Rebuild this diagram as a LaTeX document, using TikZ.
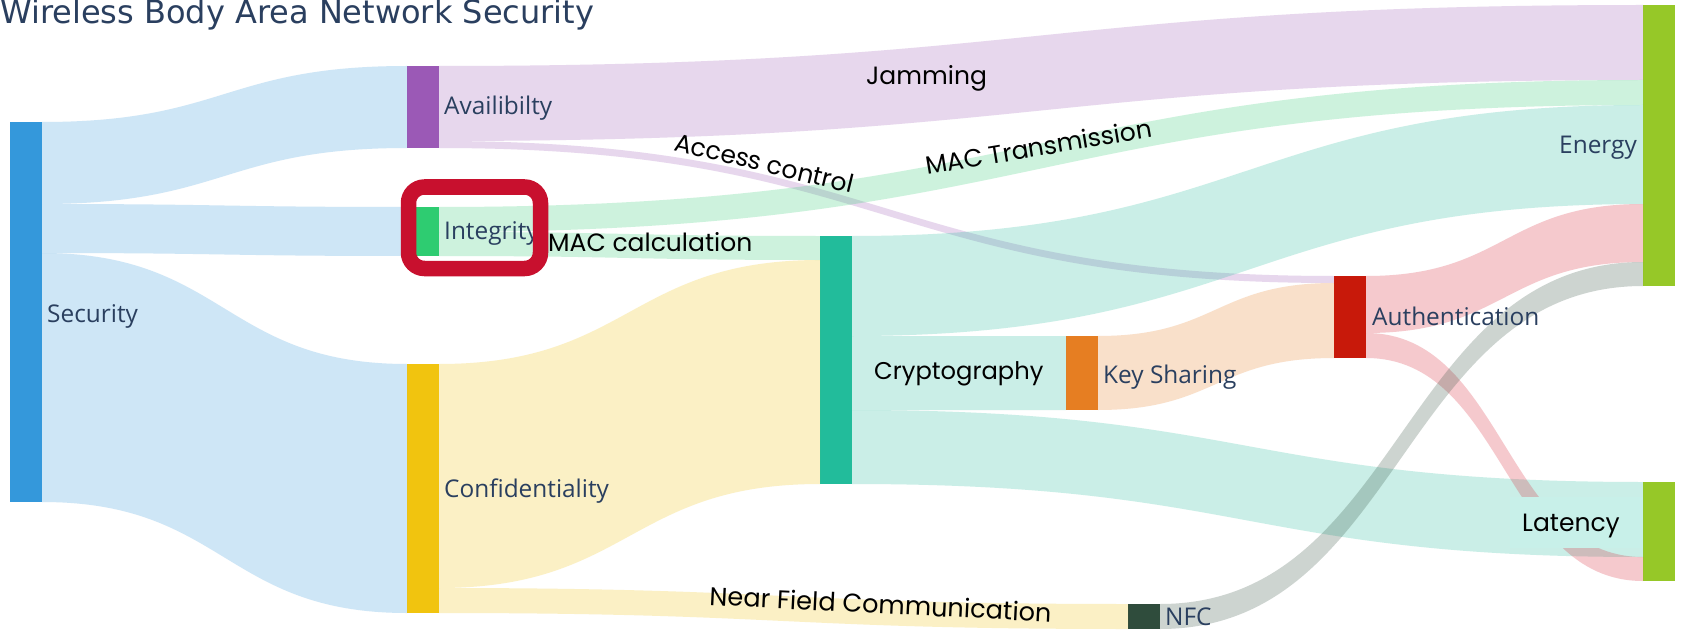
\documentclass[tikz,border=0pt]{standalone}
\usepackage{fontspec}
\usetikzlibrary{calc}
\newfontfamily\plotlyfont{Open Sans}
\newfontfamily\titlefont{DejaVu Sans}
\newfontfamily\notefont{Poppins}

\definecolor{ink}{HTML}{2A3F5F}
\definecolor{cSec}{HTML}{3498DB}
\definecolor{cAvail}{HTML}{9B59B6}
\definecolor{cInteg}{HTML}{2ECC71}
\definecolor{cConf}{HTML}{F1C40F}
\definecolor{cCrypt}{RGB}{34,188,155}
\definecolor{cKey}{HTML}{E67E22}
\definecolor{cAuth}{RGB}{200,25,10}
\definecolor{cAuthLink}{RGB}{215,30,50}
\definecolor{cSink}{RGB}{150,200,40}
\definecolor{cNFC}{RGB}{47,76,60}
\definecolor{focusred}{RGB}{200,16,46}
\definecolor{latbg}{RGB}{200,240,233}

\tikzset{
  bar/.style={rectangle, inner sep=0pt, outer sep=0pt, draw=none},
  lbl/.style={font=\plotlyfont\fontsize{24.4}{28}\selectfont, text=ink, inner sep=0pt, anchor=base west},
  note/.style={font=\notefont\fontsize{25}{28}\selectfont, text=black, inner sep=0pt, anchor=base west},
  bandfill/.style={fill=#1, fill opacity=0.24, draw=none},
}

% \band{colour}{source}{src top}{src bottom}{target}{tgt top}{tgt bottom}
% offsets are measured downwards from the top edge of each bar
\newcommand\band[7]{%
  \path[bandfill=#1] let \p1=(#2.north east), \p2=(#5.north west),
      \p3=($(\p1)!.5!(\p2)$) in
    (\x1,\y1-#3pt) .. controls (\x3,\y1-#3pt) and (\x3,\y2-#6pt) .. (\x2,\y2-#6pt)
    -- (\x2,\y2-#7pt) .. controls (\x3,\y2-#7pt) and (\x3,\y1-#4pt) .. (\x1,\y1-#4pt)
    -- cycle;}

\begin{document}
\begin{tikzpicture}[x=1pt, y=-1pt]
\fill[white] (0,0) rectangle (1685,631);
\useasboundingbox (0,0) rectangle (1685,631);

% bars
\node[bar, fill=cSec,   minimum width=32pt, minimum height=380pt] (sec)    at (26,312)    {};
\node[bar, fill=cAvail, minimum width=32pt, minimum height=82pt]  (avail)  at (423,107)   {};
\node[bar, fill=cInteg, minimum width=32pt, minimum height=49pt]  (integ)  at (423,231.5) {};
\node[bar, fill=cConf,  minimum width=32pt, minimum height=249pt] (conf)   at (423,488.5) {};
\node[bar, fill=cCrypt, minimum width=32pt, minimum height=248pt] (crypt)  at (836,360)   {};
\node[bar, fill=cKey,   minimum width=32pt, minimum height=74pt]  (key)    at (1082,373)  {};
\node[bar, fill=cAuth,  minimum width=32pt, minimum height=82pt]  (auth)   at (1350,317)  {};
\node[bar, fill=cNFC,   minimum width=32pt, minimum height=25pt]  (nfc)    at (1144,616.5){};
\node[bar, fill=cSink,  minimum width=32pt, minimum height=281pt] (energy) at (1659,145.5){};
\node[bar, fill=cSink,  minimum width=32pt, minimum height=99pt]  (lat)    at (1659,531.5){};

% flows
\band{cSec}{sec}{0}{82}{avail}{0}{82}
\band{cSec}{sec}{82}{131}{integ}{0}{49}
\band{cSec}{sec}{131}{380}{conf}{0}{249}
\band{cAvail}{avail}{0}{75}{energy}{0}{75}
\band{cAvail}{avail}{75}{82}{auth}{0}{7}
\band{cInteg}{integ}{0}{25}{energy}{75}{100}
\band{cInteg}{integ}{25}{49}{crypt}{0}{24}
\band{cConf}{conf}{0}{224}{crypt}{24}{248}
\band{cConf}{conf}{224}{249}{nfc}{0}{25}
\band{cCrypt}{crypt}{0}{100}{energy}{100}{199}
\band{cCrypt}{crypt}{100}{174}{key}{0}{74}
\band{cCrypt}{crypt}{174}{248}{lat}{0}{75}
\band{cKey}{key}{0}{74}{auth}{7}{82}
\band{cAuthLink}{auth}{0}{57}{energy}{199}{257}
\band{cAuthLink}{auth}{57}{82}{lat}{75}{99}
\band{cNFC}{nfc}{0}{25}{energy}{257}{281}

% title and bar labels
\node[lbl, font=\titlefont\fontsize{32}{36}\selectfont] (title) at (0,23.5) {Wireless Body Area Network Security};
\node[lbl] (tSec)    at (47,322)  {Security};
\node[lbl] (tAvail)  at (444,115) {Availibilty};
\node[lbl] (tInteg)  at (444,239) {Integrity};
\node[lbl] (tConf)   at (444,497) {Confidentiality};
\node[lbl] (tKey)    at (1103,383) {Key Sharing};
\node[lbl] (tAuth)   at (1372,325) {Authentication};
\node[lbl] (tNFC)    at (1165,625) {NFC};
\node[lbl, anchor=base east] (tEnergy) at (1637,154) {Energy};

% flow annotations
\node[note] (nJam)  at (866,85)  {Jamming};
\node[note, rotate=-13.7] (nAcc) at (673,150) {Access control};
\node[note, rotate=9.5]   (nMacT) at (927,175) {MAC Transmission};
\node[note] (nMacC) at (548,251) {MAC calculation};
\node[note, font=\notefont\fontsize{24.2}{28}\selectfont] (nCrypt) at (874,379) {Cryptography};
\node[note, rotate=-2.85, font=\notefont\fontsize{25.6}{28}\selectfont] (nNear) at (709,605) {Near Field Communication};
\node[bar, fill=latbg, minimum width=133pt, minimum height=51pt] (latbox) at (1576.5,522.5) {};
\node[note] (nLat) at (1522,531) {Latency};

% highlight frame
\node[draw=focusred, line width=15.5pt, rounded corners=16pt, inner sep=0pt,
      minimum width=132pt, minimum height=81.5pt] (focus) at (474.5,227.75) {};
\end{tikzpicture}
\end{document}
